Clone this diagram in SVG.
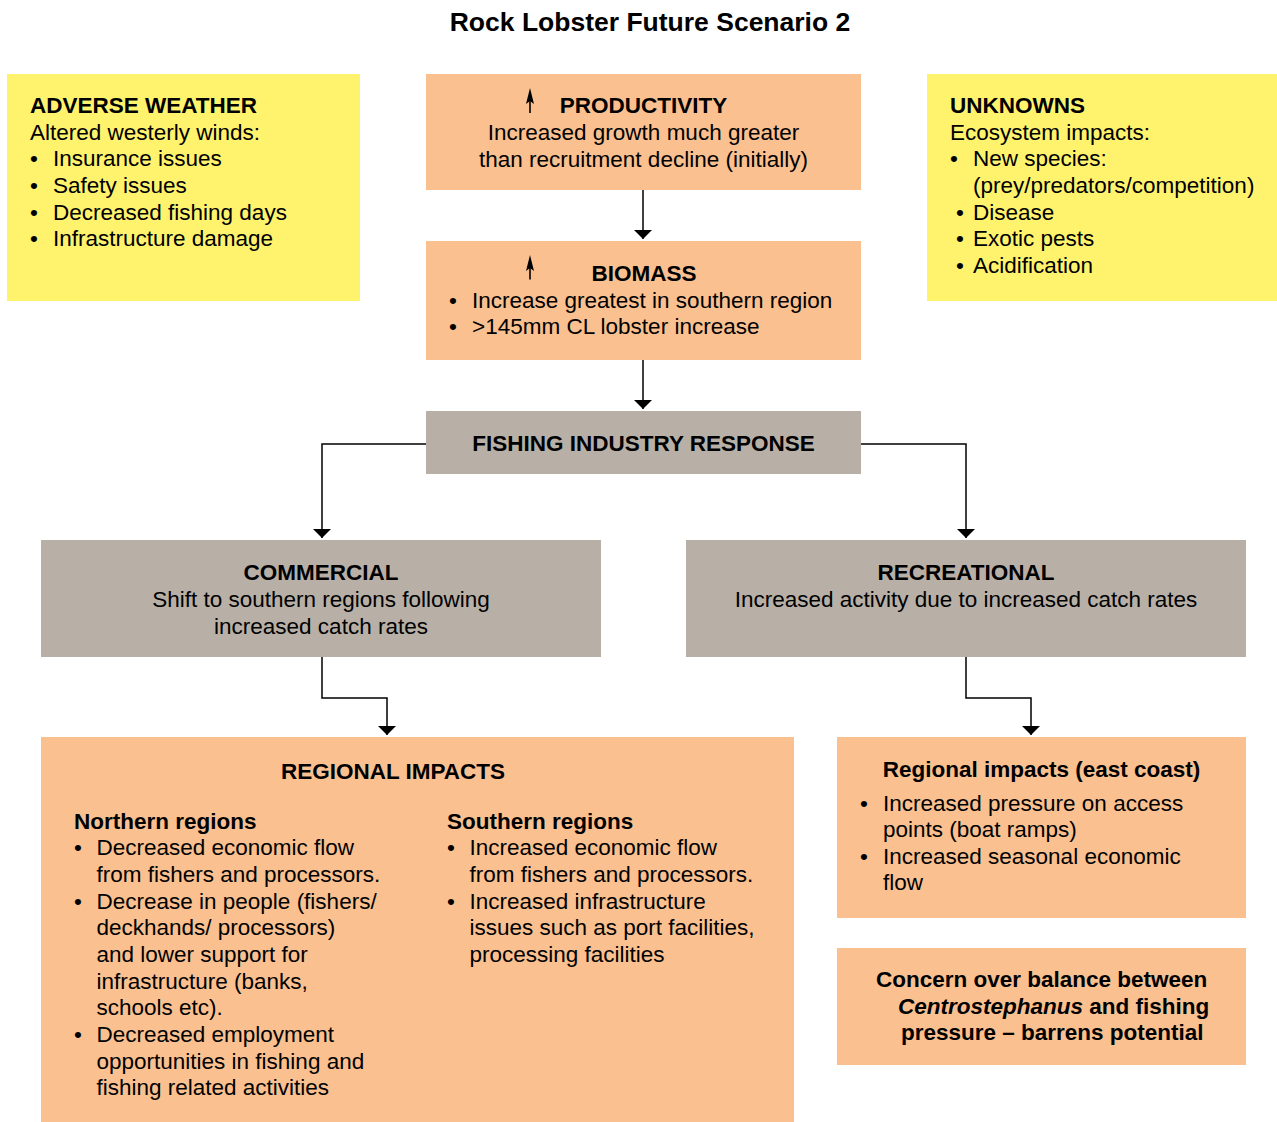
<svg xmlns="http://www.w3.org/2000/svg" width="1277" height="1122" viewBox="0 0 1277 1122">
<defs>
<marker id="ah" viewBox="0 0 9 18" markerWidth="9" markerHeight="18" refX="9" refY="9" orient="auto" markerUnits="userSpaceOnUse">
<path d="M0,0 L9,9 L0,18 z" fill="#000"/>
</marker>
</defs>
<style>
text{font-family:"Liberation Sans",Arial,sans-serif;font-size:22.5px;fill:#000}
.b{font-weight:bold}
.c{text-anchor:middle}
.title{font-size:26.5px;font-weight:bold}
.y{fill:#FFF36E}
.o{fill:#FAC090}
.g{fill:#B8B0A7}
.conn path{fill:none;stroke:#000;stroke-width:1.5}
.up{fill:none;stroke:#000;stroke-width:1.6}
</style>
<rect width="1277" height="1122" fill="#fff"/>
<text class="title c" x="650" y="31">Rock Lobster Future Scenario 2</text>

<g id="adverse-weather">
<rect class="y" x="7" y="74" width="353" height="227"/>
<text class="b" x="30" y="113">ADVERSE WEATHER</text>
<text x="30" y="139.7">Altered westerly winds:</text>
<text x="30" y="166.3">•</text><text x="53" y="166.3">Insurance issues</text>
<text x="30" y="193">•</text><text x="53" y="193">Safety issues</text>
<text x="30" y="219.7">•</text><text x="53" y="219.7">Decreased fishing days</text>
<text x="30" y="246.3">•</text><text x="53" y="246.3">Infrastructure damage</text>
</g>

<g id="productivity">
<rect class="o" x="426" y="74" width="435" height="116"/>
<line class="up" x1="530" y1="113" x2="530" y2="100"/>
<path d="M530,88 L526,104 L530,101 L534,104 z" fill="#000"/>
<text class="b c" x="643.5" y="113">PRODUCTIVITY</text>
<text class="c" x="643.5" y="140.3">Increased growth much greater</text>
<text class="c" x="643.5" y="167">than recruitment decline (initially)</text>
</g>

<g id="unknowns">
<rect class="y" x="927" y="74" width="350" height="227"/>
<text class="b" x="950" y="113">UNKNOWNS</text>
<text x="950" y="139.7">Ecosystem impacts:</text>
<text x="950" y="166.3">•</text><text x="973" y="166.3">New species:</text>
<text x="973" y="193">(prey/predators/competition)</text>
<text x="956" y="219.7">•</text><text x="973" y="219.7">Disease</text>
<text x="956" y="246.3">•</text><text x="973" y="246.3">Exotic pests</text>
<text x="956" y="273">•</text><text x="973" y="273">Acidification</text>
</g>

<g id="biomass">
<rect class="o" x="426" y="241" width="435" height="119"/>
<line class="up" x1="530" y1="279.5" x2="530" y2="267"/>
<path d="M530,255 L526,271 L530,268 L534,271 z" fill="#000"/>
<text class="b c" x="644" y="281">BIOMASS</text>
<text x="449" y="307.7">•</text><text x="472" y="307.7">Increase greatest in southern region</text>
<text x="449" y="334.3">•</text><text x="472" y="334.3">&gt;145mm CL lobster increase</text>
</g>

<g id="fishing-industry-response">
<rect class="g" x="426" y="411" width="435" height="63"/>
<text class="b c" x="643.5" y="451.3">FISHING INDUSTRY RESPONSE</text>
</g>

<g id="commercial">
<rect class="g" x="41" y="540" width="560" height="117"/>
<text class="b c" x="321" y="580.3">COMMERCIAL</text>
<text class="c" x="321" y="607">Shift to southern regions following</text>
<text class="c" x="321" y="633.5">increased catch rates</text>
</g>

<g id="recreational">
<rect class="g" x="686" y="540" width="560" height="117"/>
<text class="b c" x="966" y="580.3">RECREATIONAL</text>
<text class="c" x="966" y="607">Increased activity due to increased catch rates</text>
</g>

<g id="regional-impacts">
<rect class="o" x="41" y="737" width="753" height="385"/>
<text class="b c" x="393" y="778.7">REGIONAL IMPACTS</text>
<text class="b" x="74" y="828.7">Northern regions</text>
<text x="74" y="855.3">•</text><text x="96.5" y="855.3">Decreased economic flow</text>
<text x="96.5" y="882">from fishers and processors.</text>
<text x="74" y="908.7">•</text><text x="96.5" y="908.7">Decrease in people (fishers/</text>
<text x="96.5" y="935.3">deckhands/ processors)</text>
<text x="96.5" y="962">and lower support for</text>
<text x="96.5" y="988.7">infrastructure (banks,</text>
<text x="96.5" y="1015.3">schools etc).</text>
<text x="74" y="1042">•</text><text x="96.5" y="1042">Decreased employment</text>
<text x="96.5" y="1068.7">opportunities in fishing and</text>
<text x="96.5" y="1095.3">fishing related activities</text>
<text class="b" x="447" y="828.7">Southern regions</text>
<text x="447" y="855.3">•</text><text x="469.5" y="855.3">Increased economic flow</text>
<text x="469.5" y="882">from fishers and processors.</text>
<text x="447" y="908.7">•</text><text x="469.5" y="908.7">Increased infrastructure</text>
<text x="469.5" y="935.3">issues such as port facilities,</text>
<text x="469.5" y="962">processing facilities</text>
</g>

<g id="regional-impacts-east-coast">
<rect class="o" x="837" y="737" width="409" height="181"/>
<text class="b c" x="1041.5" y="777">Regional impacts (east coast)</text>
<text x="860" y="810.5">•</text><text x="883" y="810.5">Increased pressure on access</text>
<text x="883" y="837.2">points (boat ramps)</text>
<text x="860" y="863.7">•</text><text x="883" y="863.7">Increased seasonal economic</text>
<text x="883" y="890.3">flow</text>
</g>

<g id="concern">
<rect class="o" x="837" y="948" width="409" height="117"/>
<text class="b" x="876" y="987">Concern over balance between</text>
<text class="b" x="898" y="1013.5"><tspan font-style="italic">Centrostephanus</tspan> and fishing</text>
<text class="b" x="901" y="1040">pressure – barrens potential</text>
</g>

<g id="connectors" class="conn">
<path d="M643,190 V239" marker-end="url(#ah)"/>
<path d="M643,360 V409" marker-end="url(#ah)"/>
<path d="M426,444 H322 V538" marker-end="url(#ah)"/>
<path d="M861,444 H966 V538" marker-end="url(#ah)"/>
<path d="M322,657 V698 H387 V735" marker-end="url(#ah)"/>
<path d="M966,657 V698 H1031 V735" marker-end="url(#ah)"/>
</g>
</svg>
